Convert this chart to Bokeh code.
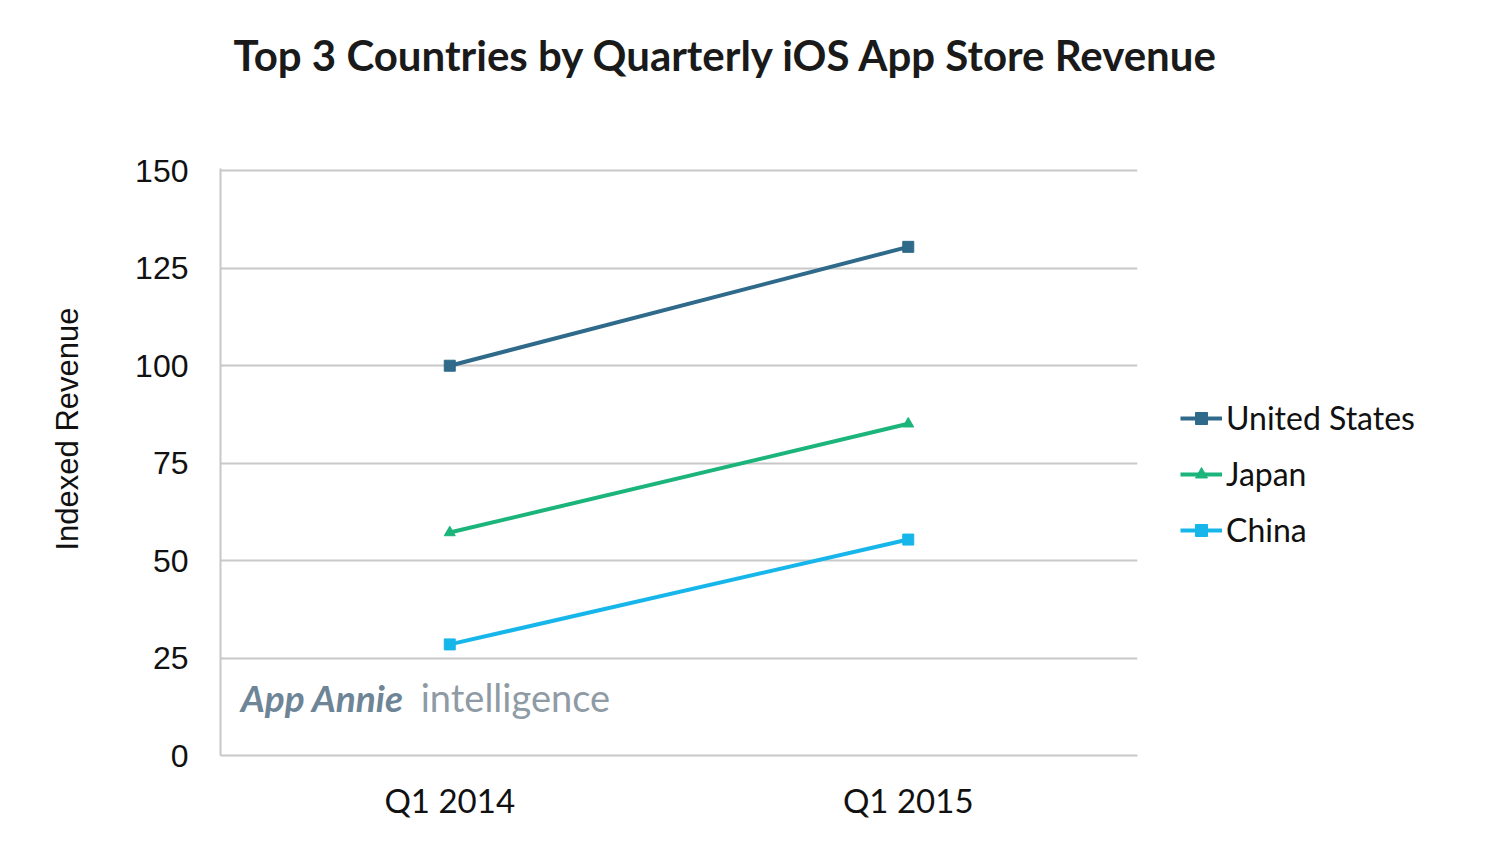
from bokeh.plotting import figure
from bokeh.models import FactorRange, Range1d, Legend, LegendItem, FixedTicker, Title
from bokeh.core.properties import value
from bokeh.embed import file_html
from bokeh.resources import INLINE

quarters = ["Q1 2014", "Q1 2015"]
us = [100, 130.5]
japan = [57.2, 85.1]
china = [28.5, 55.4]
y_ticks = [0, 25, 50, 75, 100, 125, 150]

us_color = "#2f6a8a"
jp_color = "#1bb57c"
cn_color = "#17b6ea"

p = figure(frame_width=917, frame_height=587, output_backend="svg", toolbar_location=None,
           x_range=FactorRange(factors=quarters, range_padding=0),
           y_range=Range1d(0, 150.6),
           min_border_left=220, min_border_right=10, min_border_top=168, min_border_bottom=95)

p.title = Title(text="Top 3 Countries by Quarterly iOS App Store Revenue", align="left",
                text_font="Lato", text_font_size="42px", text_font_style="bold",
                text_color="#1a1a1a", offset=13, standoff=0)
# spacer between the title and the plot frame
p.add_layout(Title(text=" ", text_font_size="1px", standoff=86), "above")

p.outline_line_color = None
p.background_fill_color = "white"
p.border_fill_color = "white"

p.xgrid.grid_line_color = None
p.ygrid.grid_line_color = "#c8c8c8"
p.ygrid.grid_line_width = 2
p.yaxis.ticker = FixedTicker(ticks=y_ticks)

for ax in (p.xaxis[0], p.yaxis[0]):
    ax.axis_line_color = "#c8c8c8"
    ax.axis_line_width = 2
    ax.major_tick_line_color = None
    ax.minor_tick_line_color = None
    ax.major_label_text_color = "#111111"

p.yaxis.major_label_text_font = "Liberation Sans"
p.yaxis.major_label_text_font_size = "32px"
p.yaxis.major_label_standoff = 26

# y-axis title, placed a little above the frame's middle as in the reference
p.add_layout(Title(text="Indexed Revenue", align="left", offset=205, standoff=95,
                   text_font="Liberation Sans", text_font_size="31px",
                   text_font_style="normal", text_color="#111111"), "left")

p.xaxis.major_label_text_font = "Lato"
p.xaxis.major_label_text_font_size = "33px"
p.xaxis.major_label_standoff = 18

r_us_l = p.line(quarters, us, line_color=us_color, line_width=4)
r_us_m = p.scatter(quarters, us, marker="square", size=11, color=us_color)
r_jp_l = p.line(quarters, japan, line_color=jp_color, line_width=4)
r_jp_m = p.scatter(quarters, japan, marker="triangle", size=11, color=jp_color)
r_cn_l = p.line(quarters, china, line_color=cn_color, line_width=4)
r_cn_m = p.scatter(quarters, china, marker="square", size=11, color=cn_color)

# watermark
p.text(x=[quarters[0]], y=[15], text=["App Annie"], x_offset=-209, text_font=value("Lato"),
       text_font_style="bold italic", text_font_size="37px", text_color="#6d8596",
       text_baseline="middle", text_align="left")
p.text(x=[quarters[0]], y=[15], text=["intelligence"], x_offset=-29, text_font=value("Lato"),
       text_font_style="normal", text_font_size="38px", text_color="#8e9ba5",
       text_baseline="middle", text_align="left")

legend = Legend(items=[
    LegendItem(label="United States", renderers=[r_us_l, r_us_m]),
    LegendItem(label="Japan", renderers=[r_jp_l, r_jp_m]),
    LegendItem(label="China", renderers=[r_cn_l, r_cn_m]),
], location=(43, 206), label_text_font="Lato", label_text_font_size="32px",
    label_text_color="#111111", glyph_width=42, glyph_height=30, spacing=17,
    padding=0, margin=0, label_standoff=4, border_line_color=None,
    background_fill_alpha=0)
p.add_layout(legend, "right")

open("out.html", "w").write(file_html(p, INLINE))
